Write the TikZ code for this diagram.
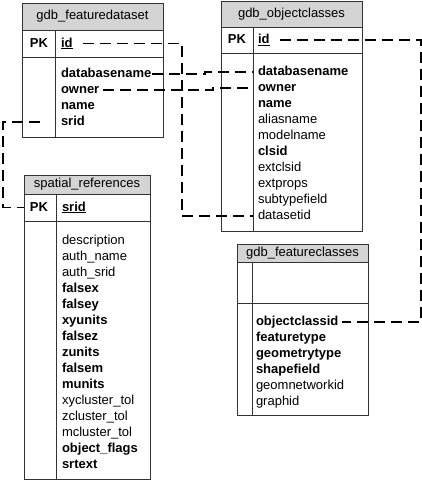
\documentclass[tikz,border=0pt]{standalone}
\usepackage{fontspec}
\setmainfont{Liberation Sans}
\usetikzlibrary{positioning}
\newcommand\tblfont{\fontsize{13pt}{16pt}\selectfont}

\begin{document}
\begin{tikzpicture}[
    x=1pt, y=-1pt,
    % Tables
    tblhead/.style={rectangle, draw=black!80, line width=0.9pt, fill=black!17, anchor=north west, inner sep=0pt, outer sep=0pt, font=\tblfont},
    tblpart/.style={rectangle, draw=black!80, line width=0.9pt, fill=white, below=0pt of #1, inner sep=0pt, outer sep=0pt},
    tblline/.style={draw=black!80, line width=0.9pt},
    % Fields
    fld/.style={anchor=north west, inner xsep=0pt, inner ysep=2pt, outer sep=0pt, text height=9.5pt, text depth=2.5pt, font=\tblfont},
    key/.style={fld, font=\tblfont\bfseries},
    next/.style={below right=0pt of #1.south west},
    % Foreign keys
    fk/.style={line width=1.6pt, dash pattern=on 11pt off 6pt}
]
\useasboundingbox (0,0) rectangle (422,480);

% Table gdb_featuredataset
\node[tblhead, minimum width=141pt, minimum height=27pt] (fd_head) at (22,3) {gdb\_featuredataset};
\node[tblpart=fd_head, minimum width=141pt, minimum height=27pt] (fd_pkrow) {};
\node[tblpart=fd_pkrow, minimum width=141pt, minimum height=80pt] (fd_body) {};
\draw[tblline] ([xshift=33pt]fd_pkrow.north west) -- ([xshift=33pt]fd_body.south west);
\node[key, anchor=center] (fd_pk) at ([xshift=17pt]fd_pkrow.west) {PK};
\node[key, anchor=west] (fd_id) at ([xshift=39pt]fd_pkrow.west) {\underline{id}};
\node[key] (fd_dbname) at ([xshift=39pt, yshift=-9pt]fd_body.north west) {databasename};
\node[key, next=fd_dbname] (fd_owner) {owner};
\node[key, next=fd_owner] (fd_name) {name};
\node[key, next=fd_name] (fd_srid) {srid};

% Table gdb_objectclasses
\node[tblhead, minimum width=141pt, minimum height=26pt] (oc_head) at (221,1) {gdb\_objectclasses};
\node[tblpart=oc_head, minimum width=141pt, minimum height=26pt] (oc_pkrow) {};
\node[tblpart=oc_pkrow, minimum width=141pt, minimum height=178pt] (oc_body) {};
\draw[tblline] ([xshift=32pt]oc_pkrow.north west) -- ([xshift=32pt]oc_body.south west);
\node[key, anchor=center] (oc_pk) at ([xshift=16pt]oc_pkrow.west) {PK};
\node[key, anchor=west] (oc_id) at ([xshift=37pt]oc_pkrow.west) {\underline{id}};
\node[key] (oc_dbname) at ([xshift=37pt, yshift=-11pt]oc_body.north west) {databasename};
\node[key, next=oc_dbname] (oc_owner) {owner};
\node[key, next=oc_owner] (oc_name) {name};
\node[fld, next=oc_name] (oc_alias) {aliasname};
\node[fld, next=oc_alias] (oc_model) {modelname};
\node[key, next=oc_model] (oc_clsid) {clsid};
\node[fld, next=oc_clsid] (oc_extclsid) {extclsid};
\node[fld, next=oc_extclsid] (oc_extprops) {extprops};
\node[fld, next=oc_extprops] (oc_subtype) {subtypefield};
\node[fld, next=oc_subtype] (oc_datasetid) {datasetid};

% Table spatial_references
\node[tblhead, minimum width=126pt, minimum height=19pt] (sr_head) at (24,175) {spatial\_references};
\node[tblpart=sr_head, minimum width=126pt, minimum height=27pt] (sr_pkrow) {};
\node[tblpart=sr_pkrow, minimum width=126pt, minimum height=258pt] (sr_body) {};
\draw[tblline] ([xshift=32pt]sr_pkrow.north west) -- ([xshift=32pt]sr_body.south west);
\node[key, anchor=center] (sr_pk) at ([xshift=15pt]sr_pkrow.west) {PK};
\node[key, anchor=west] (sr_srid) at ([xshift=38pt]sr_pkrow.west) {\underline{srid}};
\node[fld] (sr_desc) at ([xshift=38pt, yshift=-12pt]sr_body.north west) {description};
\node[fld, next=sr_desc] (sr_authname) {auth\_name};
\node[fld, next=sr_authname] (sr_authsrid) {auth\_srid};
\node[key, next=sr_authsrid] (sr_falsex) {falsex};
\node[key, next=sr_falsex] (sr_falsey) {falsey};
\node[key, next=sr_falsey] (sr_xyunits) {xyunits};
\node[key, next=sr_xyunits] (sr_falsez) {falsez};
\node[key, next=sr_falsez] (sr_zunits) {zunits};
\node[key, next=sr_zunits] (sr_falsem) {falsem};
\node[key, next=sr_falsem] (sr_munits) {munits};
\node[fld, next=sr_munits] (sr_xytol) {xycluster\_tol};
\node[fld, next=sr_xytol] (sr_ztol) {zcluster\_tol};
\node[fld, next=sr_ztol] (sr_mtol) {mcluster\_tol};
\node[key, next=sr_mtol] (sr_flags) {object\_flags};
\node[key, next=sr_flags] (sr_srtext) {srtext};

% Table gdb_featureclasses
\node[tblhead, minimum width=131pt, minimum height=18pt] (fc_head) at (237,244) {gdb\_featureclasses};
\node[tblpart=fc_head, minimum width=131pt, minimum height=41pt] (fc_pkrow) {};
\node[tblpart=fc_pkrow, minimum width=131pt, minimum height=112pt] (fc_body) {};
\draw[tblline] ([xshift=15pt]fc_pkrow.north west) -- ([xshift=15pt]fc_body.south west);
\node[key] (fc_ocid) at ([xshift=19pt, yshift=-11pt]fc_body.north west) {objectclassid};
\node[key, next=fc_ocid] (fc_ftype) {featuretype};
\node[key, next=fc_ftype] (fc_gtype) {geometrytype};
\node[key, next=fc_gtype] (fc_shape) {shapefield};
\node[fld, next=fc_shape] (fc_geomnet) {geomnetworkid};
\node[fld, next=fc_geomnet] (fc_graph) {graphid};

% Foreign keys
\coordinate (j_ds) at (182,130);
\coordinate (j_db) at (205,73);
\coordinate (j_ow) at (213,89);
\coordinate (j_sr) at (3,160);
\coordinate (j_oc) at (421,200);
\draw[fk] ([xshift=10pt]fd_id.east) -| (j_ds) |- ([xshift=-5pt]oc_datasetid.west);
\draw[fk] ([xshift=1pt]fd_dbname.east) -| (j_db) |- ([xshift=-5pt]oc_dbname.west);
\draw[fk] ([xshift=4pt]fd_owner.east) -| (j_ow) |- ([xshift=-5pt]oc_owner.west);
\draw[fk] ([xshift=-21pt]fd_srid.west) -| (j_sr) |- (sr_pkrow.west);
\draw[fk] ([xshift=10pt]oc_id.east) -| (j_oc) |- ([xshift=4pt]fc_ocid.east);

\end{tikzpicture}
\end{document}
